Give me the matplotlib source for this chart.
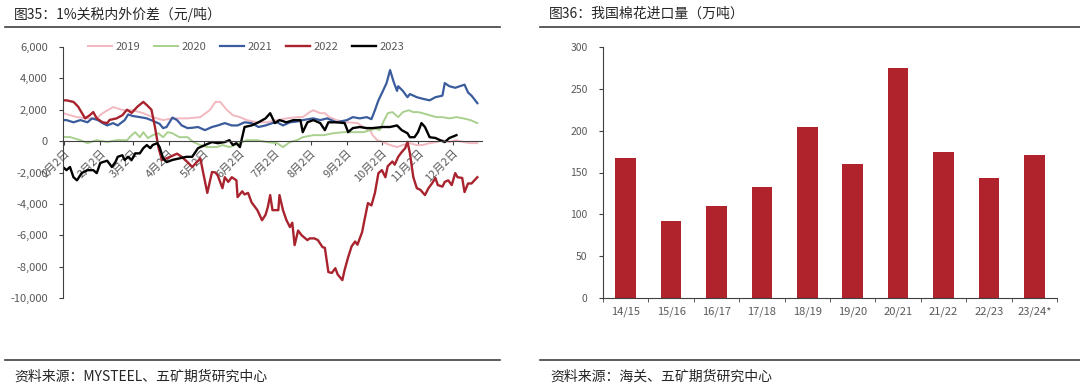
import matplotlib
matplotlib.use('Agg')
import matplotlib.pyplot as plt
from matplotlib.lines import Line2D
import numpy as np

plt.rcParams['font.family'] = ['Noto Sans CJK SC', 'DejaVu Sans']

# ---- 图35 data: day of year -> 元/吨 ----
day_2019 = [0, 12, 21, 29, 34, 43, 52, 60, 69, 77, 86, 94, 107, 118, 126, 131, 135, 141, 146, 152,
            158, 167, 175, 184, 192, 201, 206, 212, 215, 221, 225, 229, 235, 244, 253, 258, 264, 266,
            270, 275, 281, 287, 292, 298, 304, 309, 315, 321, 326, 332, 338, 344, 350, 356]
val_2019 = [1780, 1530, 1450, 1450, 1780, 2170, 1970, 1970, 1780, 1530, 1340, 1450, 1450, 1530, 1970,
            2500, 2500, 1970, 1650, 1530, 1340, 1200, 1200, 1340, 1450, 1530, 1530, 1850, 1970, 1780,
            1780, 1530, 1340, 1200, 1150, 900, 700, 380, 60, -60, -250, -380, -250, -130, -250, -250,
            -130, -60, 60, -60, 60, -60, -130, -130]

day_2020 = [0, 6, 15, 21, 29, 38, 46, 55, 59, 62, 66, 69, 73, 77, 82, 86, 90, 94, 100, 107, 112, 118,
            124, 132, 137, 143, 148, 158, 167, 175, 184, 189, 195, 201, 206, 215, 224, 232, 241, 249,
            258, 264, 268, 272, 276, 279, 283, 288, 292, 297, 301, 305, 309, 315, 321, 326, 332, 338,
            344, 350, 356]
val_2020 = [260, 260, 60, -130, 60, -60, 60, 60, 380, 570, 250, 570, 190, 380, 500, 250, 570, 500, 250,
            250, -60, -250, -380, -380, -250, -380, -250, 60, 60, -60, -130, -380, -60, 60, 250, 380,
            380, 500, 570, 570, 570, 700, 800, 700, 1340, 1780, 1850, 1530, 1850, 1970, 1850, 1850,
            1780, 1650, 1530, 1530, 1450, 1530, 1450, 1340, 1150]

day_2021 = [0, 3, 9, 15, 21, 25, 30, 34, 38, 43, 47, 53, 56, 60, 66, 72, 77, 83, 86, 89, 94, 98, 102,
            107, 111, 116, 122, 128, 133, 139, 145, 150, 156, 162, 168, 174, 180, 184, 189, 195, 201,
            206, 215, 221, 227, 235, 244, 249, 255, 261, 265, 268, 271, 274, 278, 281, 284, 287, 288,
            292, 296, 298, 304, 309, 315, 320, 326, 328, 332, 337, 341, 345, 348, 351, 356]
val_2021 = [1340, 1340, 1200, 1340, 1200, 1450, 1340, 1150, 1000, 1150, 1000, 1340, 1700, 1600, 1530,
            1450, 1300, 1100, 830, 900, 1500, 1340, 1000, 830, 850, 900, 700, 900, 1000, 1150, 1000,
            1000, 1200, 1150, 900, 1000, 1150, 1200, 1000, 1200, 1250, 1340, 1450, 1340, 1450, 1200,
            1340, 1530, 1450, 1530, 1400, 1970, 2600, 3060, 3700, 4530, 3800, 3200, 3500, 3200, 2800,
            3000, 2800, 2700, 2600, 2800, 2900, 3700, 3500, 3400, 3500, 3600, 3100, 2900, 2420]

day_2022 = [0, 3, 9, 13, 19, 23, 26, 29, 34, 38, 40, 46, 51, 55, 59, 64, 69, 72, 76, 79, 82, 85, 89,
            92, 98, 102, 107, 111, 115, 118, 120, 124, 128, 131, 133, 137, 139, 142, 145, 149, 150,
            154, 156, 159, 162, 167, 171, 174, 176, 178, 180, 185, 186, 189, 192, 195, 197, 199, 202,
            205, 210, 212, 216, 219, 223, 225, 228, 231, 234, 236, 240, 242, 245, 248, 251, 253, 257,
            259, 262, 265, 268, 271, 274, 277, 279, 283, 285, 288, 291, 294, 296, 298, 301, 304, 307,
            311, 314, 317, 320, 322, 326, 328, 331, 334, 337, 339, 343, 345, 348, 351, 356]
val_2022 = [2600, 2600, 2500, 2200, 1450, 1650, 1850, 1450, 1200, 1150, 1350, 1450, 1650, 2000, 1800,
            2200, 2500, 2300, 2000, 900, -400, -1200, -1100, -1000, -800, -1000, -1340, -1650, -1340,
            -1100, -1850, -3300, -1970, -2000, -2200, -3000, -2300, -2600, -2300, -2500, -3570, -3200,
            -3400, -3300, -3900, -4400, -5040, -4700, -4200, -3440, -4400, -4400, -3440, -4400, -5040,
            -5480, -5200, -6630, -5700, -6000, -6310, -6200, -6200, -6310, -6760, -6800, -8350, -8400,
            -8100, -8500, -8860, -8200, -7400, -6700, -6400, -6600, -5800, -5040, -3950, -4100, -3300,
            -2040, -1850, -2300, -1600, -1300, -1500, -1000, -700, -450, -50, -750, -2300, -3000,
            -3100, -3440, -3000, -2700, -2350, -2800, -2900, -2600, -2500, -2800, -2040, -2300, -2350,
            -3250, -2700, -2700, -2300]

day_2023 = [0, 3, 6, 9, 12, 16, 21, 26, 29, 32, 34, 38, 42, 45, 47, 51, 53, 56, 59, 62, 66, 69, 72,
            75, 77, 81, 83, 86, 89, 94, 100, 106, 111, 116, 122, 128, 133, 139, 143, 146, 149, 152,
            156, 162, 168, 174, 178, 182, 186, 192, 198, 204, 206, 210, 215, 221, 225, 228, 235, 242,
            245, 249, 255, 261, 266, 275, 281, 287, 291, 296, 298, 302, 305, 308, 311, 315, 320, 324,
            328, 332, 338]
val_2023 = [-1650, -1850, -1650, -2300, -2500, -2040, -1850, -1850, -2040, -1400, -1340, -1250, -1650,
            -1340, -1000, -900, -1200, -1000, -1200, -780, -780, -450, -250, -450, -250, -130, -380,
            -1100, -1340, -1200, -1100, -1000, -1000, -450, -250, -60, -130, -60, 60, -250, -130, -380,
            900, 1000, 1200, 1450, 1780, 1150, 1340, 1200, 1340, 1340, 570, 1200, 1340, 1150, 700,
            1200, 1200, 1150, 570, 830, 900, 830, 830, 900, 900, 1000, 700, 500, 250, 250, 570, 1150,
            900, 250, 200, 60, -60, 200, 380]

month_days = [1, 32, 60, 91, 121, 152, 182, 213, 244, 274, 305, 335]
month_labels = ['1月2日', '2月2日', '3月2日', '4月2日', '5月2日', '6月2日',
                '7月2日', '8月2日', '9月2日', '10月2日', '11月2日', '12月2日']

# ---- 图36 data ----
seasons = ['14/15', '15/16', '16/17', '17/18', '18/19', '19/20', '20/21', '21/22', '22/23', '23/24*']
imports = [167, 92, 110, 133, 204, 160, 275, 174, 143, 171]

grey = '#595959'
dark = '#404040'

fig = plt.figure(figsize=(10.8, 3.92), dpi=100)

# frame texts and rules
fig.text(14 / 1080, 1 - 14 / 392, '图35：1%关税内外价差（元/吨）', fontsize=10, color='#262626', va='center')
fig.text(549 / 1080, 1 - 14 / 392, '图36：我国棉花进口量（万吨）', fontsize=10, color='#262626', va='center')
fig.text(14 / 1080, 1 - 377 / 392, '资料来源：MYSTEEL、五矿期货研究中心', fontsize=10, color='#262626', va='center')
fig.text(550 / 1080, 1 - 377 / 392, '资料来源：海关、五矿期货研究中心', fontsize=10, color='#262626', va='center')
for x0, x1 in [(5, 500), (540, 1080)]:
    for yy in [27, 360]:
        fig.add_artist(Line2D([x0 / 1080, x1 / 1080], [1 - yy / 392, 1 - yy / 392],
                              transform=fig.transFigure, color=dark, lw=1.2))

# ---- left: price spread lines ----
ax = fig.add_axes([63 / 1080, 1 - 298 / 392, 419 / 1080, 251 / 392])
ax.plot(day_2019, val_2019, color='#F2B8C0', lw=1.4, label='2019')
ax.plot(day_2020, val_2020, color='#A9D08E', lw=1.4, label='2020')
ax.plot(day_2021, val_2021, color='#3A5C9C', lw=1.6, label='2021')
ax.plot(day_2022, val_2022, color='#A8232D', lw=1.7, label='2022')
ax.plot(day_2023, val_2023, color='black', lw=1.7, label='2023')
ax.set_xlim(0, 360)
ax.set_ylim(-10000, 6000)
ax.set_yticks(range(-10000, 6001, 2000))
ax.set_yticklabels([f'{v:,}' for v in range(-10000, 6001, 2000)])
ax.spines['top'].set_visible(False)
ax.spines['right'].set_visible(False)
ax.spines['bottom'].set_position(('data', 0))
ax.spines['bottom'].set_color(dark)
ax.spines['left'].set_color(dark)
ax.set_xticks(month_days)
ax.set_xticklabels(month_labels, rotation=45, ha='right', rotation_mode='anchor')
ax.tick_params(axis='x', length=3, color=dark, labelsize=8, labelcolor=grey, pad=2)
ax.tick_params(axis='y', length=3, color=dark, labelsize=8, labelcolor=grey, pad=8)
ax.legend(ncol=5, loc='center', bbox_to_anchor=(0.437, 1.0), frameon=False, fontsize=8,
          handlelength=2.2, handletextpad=0.3, columnspacing=1.2, labelcolor=grey)

# ---- right: import bars ----
ax2 = fig.add_axes([603 / 1080, 1 - 298 / 392, 454 / 1080, 251 / 392])
xs = np.arange(len(seasons))
ax2.bar(xs, imports, width=0.45, color='#B0222C')
ax2.set_xlim(-0.5, len(seasons) - 0.5)
ax2.set_ylim(0, 300)
ax2.set_yticks(range(0, 301, 50))
ax2.set_xticks(xs)
ax2.set_xticklabels(seasons)
ax2.set_xticks(np.arange(-0.5, len(seasons), 1), minor=True)
ax2.spines['top'].set_visible(False)
ax2.spines['right'].set_visible(False)
ax2.spines['bottom'].set_color(dark)
ax2.spines['left'].set_color(dark)
ax2.tick_params(axis='x', which='major', length=0, labelsize=8, labelcolor=grey, pad=6)
ax2.tick_params(axis='x', which='minor', length=3, color=dark)
ax2.tick_params(axis='y', length=3, color=dark, labelsize=7.5, labelcolor=grey, pad=8)

fig.savefig('out.png', dpi=100)
